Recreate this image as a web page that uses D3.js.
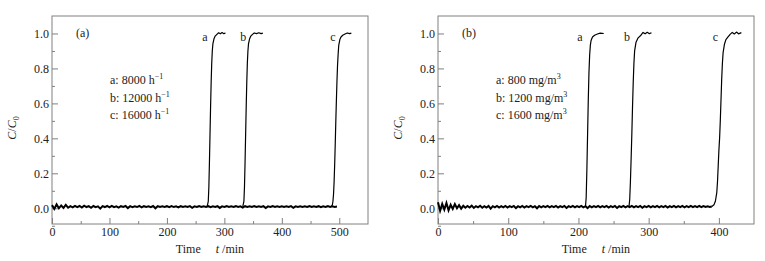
<!DOCTYPE html>
<html>
<head>
<meta charset="UTF-8">
<title>breakthrough curves</title>
<script src="https://d3js.org/d3.v7.min.js"></script>
<style>
  body { margin: 0; background: #fff; }
  svg { display: block; font-family: "Liberation Serif", "Times New Roman", serif; }
  .frame { fill: none; stroke: #808080; stroke-width: 1; }
  .tick line { stroke: #808080; }
  .tick text { font-size: 12px; fill: #222; }
  .domain { display: none; }
  .curve { fill: none; stroke: #000; stroke-width: 1.2; stroke-linejoin: round; }
  .base { stroke-width: 2; stroke-linejoin: miter; }
  .lbl { font-size: 12px; fill: #222; }
</style>
</head>
<body>
<svg width="765" height="261"></svg>
<script>
// y ticks shared by both panels
var yTicks = [0.0, 0.2, 0.4, 0.6, 0.8, 1.0]
var yMinor = [-0.1, 0.1, 0.3, 0.5, 0.7, 0.9]

// panel (a): gas hourly space velocity
var xTicksL = [0, 100, 200, 300, 400, 500]
var xMinorL = [50, 150, 250, 350, 450]
var legendL = ["a: 8000 h", "b: 12000 h", "c: 16000 h"]
// baseline, one reading every 4 min from t = 0
var baseStepL = 4
var baseL = [
  0.018, -0.004, 0.022, 0.000, 0.016, 0.002, 0.019, 0.003,
  0.012, 0.005, 0.014, 0.006, 0.013, 0.004, 0.015, 0.007, 0.012, 0.003,
  0.013, 0.006, 0.011, -0.002, 0.012, 0.007, 0.013, 0.005, 0.014, 0.006,
  0.011, 0.004, 0.012, 0.008, 0.013, 0.001, 0.012, 0.006, 0.011, 0.007,
  0.013, 0.005, 0.012, 0.008, 0.011, 0.006, 0.013, 0.000, 0.012, 0.007,
  0.011, 0.008, 0.012, 0.006, 0.013, 0.007, 0.011, 0.005, 0.012, 0.008,
  0.011, 0.007, 0.012, 0.003, 0.011, 0.008, 0.012, 0.007, 0.011, 0.008,
  0.012, 0.006, 0.011, 0.008, 0.012, 0.002, 0.011, 0.008, 0.012, 0.007,
  0.011, 0.008, 0.012, 0.007, 0.011, 0.004, 0.012, 0.008, 0.011, 0.007,
  0.012, 0.008, 0.011, 0.007, 0.012, 0.001, 0.011, 0.008, 0.012, 0.007,
  0.011, 0.008, 0.012, 0.008, 0.011, 0.007, 0.012, 0.003, 0.011, 0.008,
  0.012, 0.008, 0.011, 0.008, 0.012, 0.007, 0.011, 0.008, 0.012, 0.006,
  0.011, 0.008, 0.012, 0.007, 0.011, 0.008, 0.010
]
var riseLa = [[270,0.009],[272,0.04],[273,0.12],[274,0.26],[275,0.42],[276,0.58],[277,0.72],[278,0.83],[279,0.90],[280,0.94],[282,0.97],[284,0.985],[287,0.995],[290,1.004],[293,0.998],[296,1.005],[299,0.999],[302,1.003]]
var riseLb = [[332,0.009],[334,0.04],[335,0.12],[336,0.26],[337,0.42],[338,0.58],[339,0.72],[340,0.83],[341,0.90],[342,0.94],[344,0.97],[346,0.985],[349,0.995],[352,1.003],[356,0.999],[360,1.004],[364,0.999],[367,1.002]]
var riseLc = [[486,0.010],[488,0.02],[489,0.04],[490,0.08],[491,0.15],[492,0.25],[493,0.37],[494,0.50],[495,0.62],[496,0.73],[497,0.82],[498,0.88],[499,0.93],[501,0.965],[503,0.98],[506,0.99],[510,0.997],[514,1.003],[518,0.999],[521,1.002]]

// panel (b): inlet concentration
var xTicksR = [0, 100, 200, 300, 400]
var xMinorR = [50, 150, 250, 350]
var legendR = ["a: 800 mg/m", "b: 1200 mg/m", "c: 1600 mg/m"]
var baseStepR = 3
var baseR = [
  0.034, -0.014, 0.025, -0.008, 0.030, -0.012, 0.020, -0.004, 0.024, 0.000, 0.018, -0.002,
  0.014, 0.003, 0.013, 0.004, 0.015, 0.002, 0.012, 0.005, 0.014, 0.003,
  0.012, 0.004, 0.013, -0.002, 0.012, 0.005, 0.013, 0.004, 0.012, 0.005,
  0.013, 0.004, 0.012, 0.006, 0.013, 0.001, 0.012, 0.005, 0.013, 0.004,
  0.012, 0.006, 0.013, 0.005, 0.012, 0.000, 0.013, 0.005, 0.012, 0.006,
  0.013, 0.005, 0.012, 0.006, 0.013, 0.004, 0.012, 0.006, 0.013, 0.002,
  0.012, 0.006, 0.013, 0.005, 0.012, 0.006, 0.013, 0.005, 0.012, 0.001,
  0.013, 0.005, 0.012, 0.006, 0.013, 0.005, 0.012, 0.006, 0.013, 0.004,
  0.012, 0.006, 0.013, 0.002, 0.012, 0.006, 0.013, 0.005, 0.012, 0.006,
  0.013, 0.005, 0.012, 0.006, 0.013, 0.003, 0.012, 0.006, 0.013, 0.005,
  0.012, 0.006, 0.013, 0.005, 0.012, 0.006, 0.013, 0.004, 0.012, 0.006,
  0.013, 0.005, 0.012, 0.006, 0.013, 0.005, 0.012, 0.006, 0.013, 0.006,
  0.012, 0.006, 0.013, 0.006, 0.012, 0.007, 0.011, 0.008, 0.010
]
var riseRa = [[210,0.008],[211,0.06],[212,0.22],[213,0.42],[214,0.62],[215,0.78],[216,0.88],[217,0.935],[218,0.96],[220,0.98],[223,0.99],[227,0.997],[231,1.002],[236,1.0]]
var riseRb = [[272,0.008],[273,0.05],[274,0.15],[275,0.28],[276,0.42],[277,0.58],[278,0.72],[279,0.83],[280,0.90],[282,0.95],[285,0.975],[289,0.99],[292,1.006],[295,0.998],[298,1.007],[301,0.999],[304,1.004]]
var riseRc = [[390,0.010],[393,0.02],[395,0.04],[397,0.09],[398,0.15],[399,0.24],[400,0.33],[401,0.40],[402,0.50],[403,0.62],[404,0.74],[405,0.83],[406,0.89],[408,0.94],[410,0.965],[413,0.98],[416,0.995],[419,1.006],[422,0.997],[425,1.008],[428,0.998],[432,1.005]]

var svg = d3.select("svg")
var top_ = 16, bottom = 224

function styleAxis(sel) {
  sel.attr("font-family", null).attr("font-size", null)
}

function panel(opt) {
  var x = d3.scaleLinear().domain(opt.xDomain).range([opt.left, opt.right])
  var y = d3.scaleLinear().domain([-0.09, 1.1]).range([bottom, top_])
  var g = svg.append("g")

  // ticks point inward
  g.append("g").attr("transform", "translate(0," + bottom + ")")
    .call(d3.axisBottom(x).tickValues(opt.xTicks).tickSize(-6).tickFormat(d3.format("d")))
    .call(styleAxis)
    .selectAll(".tick text").attr("y", 3.5)
  g.append("g").attr("transform", "translate(0," + bottom + ")")
    .call(d3.axisBottom(x).tickValues(opt.xMinor).tickSize(-3).tickFormat(""))
  g.append("g").attr("transform", "translate(" + opt.left + ",0)")
    .call(d3.axisLeft(y).tickValues(yTicks).tickSize(-6).tickFormat(d3.format(".1f")))
    .call(styleAxis)
    .selectAll(".tick text").attr("x", -3)
  g.append("g").attr("transform", "translate(" + opt.left + ",0)")
    .call(d3.axisLeft(y).tickValues(yMinor).tickSize(-3).tickFormat(""))

  g.append("rect").attr("class", "frame")
    .attr("x", opt.left).attr("y", top_)
    .attr("width", opt.right - opt.left).attr("height", bottom - top_)

  var line = d3.line().x(function(d) { return x(d[0]) }).y(function(d) { return y(d[1]) })
  var base = opt.base.map(function(v, i) { return [i * opt.step, v] })
  g.append("path").attr("class", "curve base").attr("d", line(base))
  opt.rises.forEach(function(r) {
    g.append("path").attr("class", "curve").attr("d", line(r))
  })

  // curve letters
  opt.letters.forEach(function(l, i) {
    g.append("text").attr("class", "lbl").attr("x", x(l)).attr("y", y(1.0) + 8)
      .attr("text-anchor", "middle").text(["a", "b", "c"][i])
  })

  g.append("text").attr("class", "lbl").attr("x", opt.left + 24).attr("y", y(1.0) + 4).text(opt.tag)

  // legend
  opt.legend.forEach(function(s, i) {
    var t = g.append("text").attr("class", "lbl").attr("x", opt.left + 58).attr("y", 84 + i * 17.5)
    t.append("tspan").text(s)
    t.append("tspan").attr("dy", -5).attr("font-size", 8).text(opt.sup)
  })

  // axis titles
  var cx = (opt.left + opt.right) / 2
  var xt = g.append("text").attr("class", "lbl").attr("y", 253).attr("x", cx).attr("text-anchor", "middle")
  xt.append("tspan").text("Time")
  xt.append("tspan").attr("dx", 15).attr("font-style", "italic").text("t")
  xt.append("tspan").text(" /min")

  var yt = g.append("text").attr("class", "lbl")
    .attr("transform", "translate(" + (opt.left - 36) + "," + ((top_ + bottom) / 2 + 8) + ") rotate(-90)")
    .attr("text-anchor", "middle")
  yt.append("tspan").attr("font-style", "italic").text("C")
  yt.append("tspan").text("/")
  yt.append("tspan").attr("font-style", "italic").text("C")
  yt.append("tspan").attr("dy", 3).attr("font-size", 8).text("0")
}

panel({ left: 52, right: 368, xDomain: [0, 550], xTicks: xTicksL, xMinor: xMinorL,
  base: baseL, step: baseStepL, rises: [riseLa, riseLb, riseLc], letters: [266, 333, 489],
  tag: "(a)", legend: legendL, sup: "\u22121" })

panel({ left: 438, right: 754, xDomain: [0, 450], xTicks: xTicksR, xMinor: xMinorR,
  base: baseR, step: baseStepR, rises: [riseRa, riseRb, riseRc], letters: [202, 269, 395],
  tag: "(b)", legend: legendR, sup: "3" })
</script>
</body>
</html>
